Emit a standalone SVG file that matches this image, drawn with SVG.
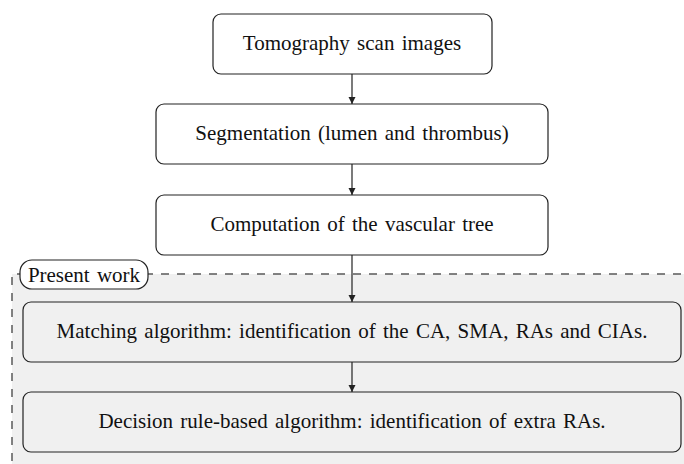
<svg xmlns="http://www.w3.org/2000/svg" width="684" height="464" viewBox="0 0 684 464">
<style>
.box{fill:#fff;stroke:#222;stroke-width:1.2}
.ibox{fill:#f0f0f0;stroke:#222;stroke-width:1.2}
.t{font-family:"Liberation Serif","Times New Roman",serif;font-size:21px;fill:#111;text-anchor:middle;word-spacing:2px}
.c{stroke:#222;stroke-width:1.2;fill:none;marker-end:url(#ah)}
</style>
<defs>
<marker id="ah" viewBox="0 0 10 10" refX="10" refY="5" markerWidth="7" markerHeight="9" markerUnits="userSpaceOnUse" orient="auto">
<path d="M0,0 L10,5 L0,10 z" fill="#222"/>
</marker>
</defs>
<g id="present-work-region">
<rect x="12" y="274" width="700" height="220" fill="#f0f0f0" stroke="#5a5a5a" stroke-width="1.5" stroke-dasharray="8,8" stroke-dashoffset="-5"/>
</g>
<g id="n1"><rect class="box" x="213" y="14" width="279" height="60" rx="8"/><text class="t" x="352" y="50">Tomography scan images</text></g>
<g id="n2"><rect class="box" x="156" y="104" width="392" height="60" rx="8"/><text class="t" x="352" y="140">Segmentation (lumen and thrombus)</text></g>
<g id="n3"><rect class="box" x="156" y="195" width="392" height="60" rx="8"/><text class="t" x="352" y="231">Computation of the vascular tree</text></g>
<g id="n4"><rect class="ibox" x="23" y="302" width="658" height="60" rx="8"/><text class="t" x="352" y="338">Matching algorithm: identification of the CA, SMA, RAs and CIAs.</text></g>
<g id="n5"><rect class="ibox" x="23" y="392" width="658" height="60" rx="8"/><text class="t" x="352" y="428">Decision rule-based algorithm: identification of extra RAs.</text></g>
<g id="label"><rect x="20" y="260" width="128" height="29" rx="12" fill="#fff" stroke="#222" stroke-width="1.2"/><text class="t" x="84" y="282">Present work</text></g>
<g id="connectors">
<line class="c" x1="352" y1="74" x2="352" y2="104"/>
<line class="c" x1="352" y1="164" x2="352" y2="195"/>
<line class="c" x1="352" y1="255" x2="352" y2="302"/>
<line class="c" x1="352" y1="362" x2="352" y2="392"/>
</g>
</svg>
